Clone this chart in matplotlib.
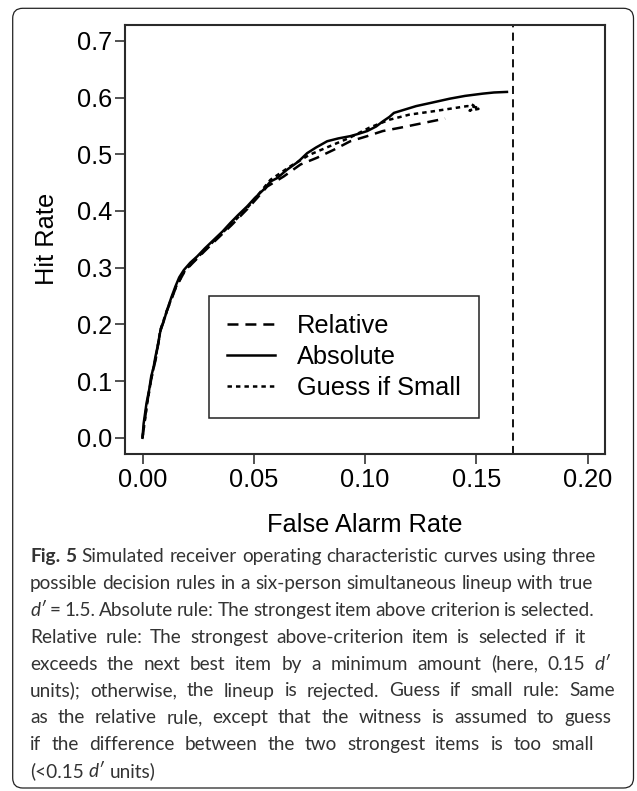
import matplotlib
matplotlib.use("Agg")
import matplotlib.pyplot as plt
from matplotlib.patches import FancyBboxPatch
from matplotlib.transforms import IdentityTransform

plt.rcParams['font.family'] = ['Liberation Sans', 'DejaVu Sans']
plt.rcParams['lines.scale_dashes'] = False

# --- data (false alarm rate, hit rate) ---
rel_far = [0, 0.002, 0.004, 0.006, 0.008, 0.011, 0.015, 0.019, 0.025, 0.032, 0.040, 0.047,
           0.052, 0.056, 0.0635, 0.071, 0.0785, 0.086, 0.0934, 0.101, 0.108, 0.116, 0.126, 0.136]
rel_hit = [0, 0.060, 0.105, 0.140, 0.188, 0.224, 0.265, 0.294, 0.318, 0.345, 0.375, 0.403,
           0.425, 0.443, 0.461, 0.482, 0.494, 0.508, 0.523, 0.532, 0.541, 0.547, 0.555, 0.563]

abs_far = [0, 0.0005, 0.0018, 0.0030, 0.0039, 0.0050, 0.0058, 0.0070, 0.0081, 0.0095, 0.0111,
           0.0130, 0.0148, 0.0165, 0.0186, 0.0215, 0.0246, 0.028, 0.032, 0.036, 0.0395, 0.043,
           0.047, 0.0505, 0.0545, 0.0575, 0.0605, 0.065, 0.070, 0.074, 0.078, 0.083, 0.088,
           0.0934, 0.097, 0.101, 0.105, 0.108, 0.111, 0.113, 0.118, 0.123, 0.130, 0.138, 0.145,
           0.153, 0.158, 0.1638]
abs_hit = [0, 0.025, 0.061, 0.085, 0.108, 0.125, 0.143, 0.165, 0.190, 0.205, 0.226, 0.248,
           0.267, 0.283, 0.296, 0.309, 0.320, 0.334, 0.349, 0.364, 0.379, 0.393, 0.408, 0.423,
           0.438, 0.452, 0.458, 0.473, 0.487, 0.502, 0.512, 0.523, 0.528, 0.532, 0.536, 0.541,
           0.549, 0.558, 0.566, 0.573, 0.579, 0.585, 0.591, 0.598, 0.603, 0.607, 0.609, 0.610]

gs_far = [0, 0.002, 0.004, 0.006, 0.008, 0.011, 0.015, 0.019, 0.025, 0.032, 0.040, 0.047,
          0.0575, 0.0665, 0.075, 0.084, 0.093, 0.102, 0.111, 0.120, 0.131, 0.141, 0.146,
          0.150, 0.147, 0.151, 0.148]
gs_hit = [0, 0.058, 0.106, 0.142, 0.190, 0.225, 0.266, 0.295, 0.319, 0.347, 0.377, 0.405,
          0.455, 0.479, 0.499, 0.514, 0.529, 0.547, 0.561, 0.570, 0.576, 0.582, 0.585,
          0.583, 0.577, 0.580, 0.588]

chance_far = 1 / 6  # six-person lineup

x_ticks = [0.00, 0.05, 0.10, 0.15, 0.20]
y_ticks = [0.0, 0.1, 0.2, 0.3, 0.4, 0.5, 0.6, 0.7]

# *word* = bold, _word_ = italic
caption_lines = [
    "*Fig.* *5* Simulated receiver operating characteristic curves using three",
    "possible decision rules in a six-person simultaneous lineup with true",
    "_d\u2032_ = 1.5. Absolute rule: The strongest item above criterion is selected.",
    "Relative rule: The strongest above-criterion item is selected if it",
    "exceeds the next best item by a minimum amount (here, 0.15 _d\u2032_",
    "units); otherwise, the lineup is rejected. Guess if small rule: Same",
    "as the relative rule, except that the witness is assumed to guess",
    "if the difference between the two strongest items is too small",
    "(<0.15 _d\u2032_ units)",
]
caption_right = [596, 593, 594, 586, 610, 615, 611, 594, None]

W, H, DPI = 637, 791, 100
fig = plt.figure(figsize=(W / DPI, H / DPI), dpi=DPI)
ax = fig.add_axes([124.7 / W, 1 - 453.7 / H, (605.3 - 124.7) / W, (453.7 - 25) / H])

ax.plot(rel_far, rel_hit, color='black', lw=1.8, linestyle=(0, (7.9, 5.0)), label='Relative')
ax.plot(abs_far, abs_hit, color='black', lw=1.8, label='Absolute')
ax.plot(gs_far, gs_hit, color='black', lw=1.8, linestyle=(0, (3.2, 2.9)), label='Guess if Small')
ax.axvline(chance_far, color='black', lw=1.3, linestyle=(0, (5.8, 3.8)))

ax.set_xlim(-0.008, 0.208)
ax.set_ylim(-0.028, 0.728)
ax.set_xticks(x_ticks)
ax.set_xticklabels([f'{v:.2f}' for v in x_ticks])
ax.set_yticks(y_ticks)
ax.set_yticklabels([f'{v:.1f}' for v in y_ticks])
ax.tick_params(axis='both', length=7, width=1.1, color='#222222', labelsize=18.3)
ax.tick_params(axis='x', pad=3.3)
ax.tick_params(axis='y', pad=2.2)
for sp in ax.spines.values():
    sp.set_linewidth(1.5)
    sp.set_color('#2a2a2a')

ax.set_xlabel('False Alarm Rate', fontsize=18.3, va='center')
ax.xaxis.set_label_coords(0.5, -0.1663)
ax.set_ylabel('Hit Rate', fontsize=18.3, va='center')
ax.yaxis.set_label_coords(-0.1617, 0.5)

leg = ax.legend(loc='upper left', bbox_to_anchor=(0.175, 0.368), borderaxespad=0,
                fontsize=18.3, fancybox=False, edgecolor='#222222', framealpha=1,
                borderpad=0.72, labelspacing=0.27, handlelength=1.9, handletextpad=0.86)
leg.get_frame().set_linewidth(1.1)

# outer rounded frame around figure + caption (pixel coords)
frame = FancyBboxPatch((12.7, H - 788), 633.5 - 12.7, 788 - 8.3,
                       boxstyle='round,pad=0,rounding_size=10', transform=IdentityTransform(),
                       fill=False, lw=0.9, edgecolor='#222222')
fig.add_artist(frame)

# --- caption, laid out word by word ---
cap_family = ['Lato', 'DejaVu Sans']
renderer = fig.canvas.get_renderer()


def parse(tok):
    if len(tok) > 2 and tok[0] == '*' and tok[-1] == '*':
        return tok[1:-1], {'weight': 'bold'}
    if len(tok) > 2 and tok[0] == '_' and tok[-1] == '_':
        return tok[1:-1], {'style': 'italic'}
    return tok, {}


def measure(s, size, **kw):
    t = fig.text(0, 0, s, fontsize=size, family=cap_family, **kw)
    w = t.get_window_extent(renderer).width
    t.remove()
    return w


def natural_width(line, size):
    words = [parse(t) for t in line.split()]
    sp = measure('x x', size) - measure('xx', size)
    return sum(measure(w, size, **kw) for w, kw in words) + sp * (len(words) - 1)


cap_left = 30
cap_size = 14 * (caption_right[0] - cap_left) / natural_width(caption_lines[0], 14)
space = measure('x x', cap_size) - measure('xx', cap_size)

for i, (line, right) in enumerate(zip(caption_lines, caption_right)):
    words = [parse(t) for t in line.split()]
    widths = [measure(w, cap_size, **kw) for w, kw in words]
    gap = space
    if right is not None and len(words) > 1:
        gap = (right - cap_left - sum(widths)) / (len(words) - 1)
    x = cap_left
    y = H - (562 + 26.9 * i)
    for (w, kw), wd in zip(words, widths):
        fig.text(x / W, y / H, w, fontsize=cap_size, family=cap_family, color='#333333',
                 ha='left', va='baseline', **kw)
        x += wd + gap

fig.savefig('out.png', dpi=DPI)
